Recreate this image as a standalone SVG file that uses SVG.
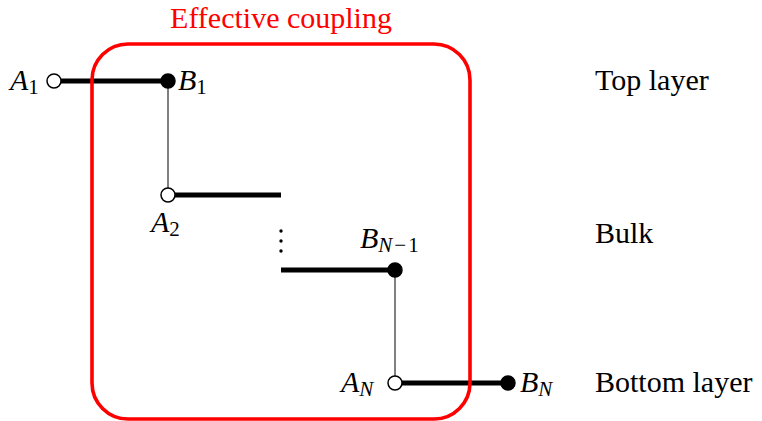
<svg xmlns="http://www.w3.org/2000/svg" width="762" height="421" viewBox="0 0 762 421">
<style>
text{font-family:"Liberation Serif","DejaVu Serif",serif;font-size:30px;fill:#000}
.m{font-style:italic}
.s{font-size:21px;font-style:normal}
.si{font-size:21px;font-style:italic}
.thick{stroke:#000;stroke-width:5;fill:none}
.thin{stroke:#808080;stroke-width:2;fill:none}
.open{fill:#fff;stroke:#000;stroke-width:1.5}
.full{fill:#000;stroke:#000;stroke-width:1.5}
</style>
<rect width="762" height="421" fill="#fff"/>
<g id="connectors">
<line class="thick" x1="54" y1="81" x2="168" y2="81"/>
<line class="thin" x1="168" y1="81" x2="168" y2="195"/>
<line class="thick" x1="168" y1="195" x2="281" y2="195"/>
<line class="thick" x1="281" y1="270" x2="395" y2="270"/>
<line class="thin" x1="395" y1="270" x2="395" y2="383"/>
<line class="thick" x1="395" y1="383" x2="508" y2="383"/>
</g>
<g id="coupling-box">
<rect x="92" y="44" width="378" height="375" rx="36" ry="36" fill="none" stroke="#ff0000" stroke-width="3.6"/>
<text x="281" y="28" text-anchor="middle" style="fill:#ff0000">Effective coupling</text>
</g>
<g id="A1">
<circle class="open" cx="54" cy="81" r="7"/>
<text x="10" y="90"><tspan class="m">A</tspan><tspan class="s" dy="4">1</tspan></text>
</g>
<g id="B1">
<circle class="full" cx="168" cy="81" r="7"/>
<text x="178" y="90"><tspan class="m">B</tspan><tspan class="s" dy="4">1</tspan></text>
</g>
<g id="A2">
<circle class="open" cx="168" cy="195" r="7"/>
<text x="151" y="232"><tspan class="m">A</tspan><tspan class="s" dy="4">2</tspan></text>
</g>
<g id="dots">
<circle cx="281" cy="231" r="1.7" fill="#000"/>
<circle cx="281" cy="241" r="1.7" fill="#000"/>
<circle cx="281" cy="251" r="1.7" fill="#000"/>
</g>
<g id="BN-1">
<circle class="full" cx="395" cy="270" r="7"/>
<text x="360" y="248"><tspan class="m">B</tspan><tspan class="si" dy="4">N</tspan><tspan class="s" dx="2">−</tspan><tspan class="s" dx="2">1</tspan></text>
</g>
<g id="AN">
<circle class="open" cx="395" cy="383" r="7"/>
<text x="341" y="392"><tspan class="m">A</tspan><tspan class="si" dy="4">N</tspan></text>
</g>
<g id="BN">
<circle class="full" cx="508" cy="383" r="7"/>
<text x="520" y="392"><tspan class="m">B</tspan><tspan class="si" dy="4">N</tspan></text>
</g>
<g id="labels">
<text x="595" y="90">Top layer</text>
<text x="595" y="243">Bulk</text>
<text x="595" y="392">Bottom layer</text>
</g>
</svg>
